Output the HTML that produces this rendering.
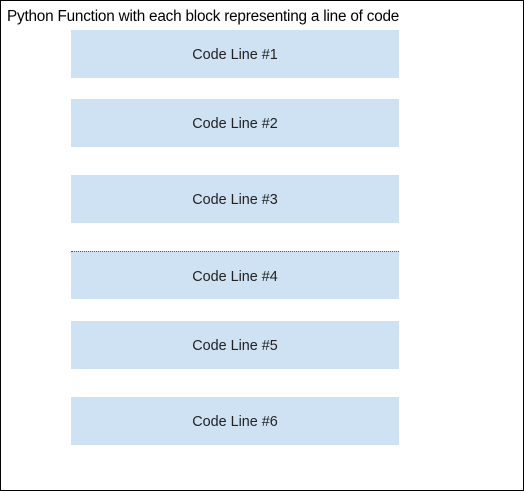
<!DOCTYPE html>
<html><head><style>
body{margin:0;width:524px;height:491px;position:relative;background:#fff;font-family:"Liberation Sans",sans-serif;overflow:hidden}
.frame{position:absolute;left:0;top:0;width:522px;height:489px;border:1px solid #000}
.t{position:absolute;left:7px;top:8px;font-size:15.3px;color:#000;white-space:nowrap;letter-spacing:-0.2px}
.b{position:absolute;left:71px;width:328px;height:48px;background:#cfe2f3;color:#222;font-size:14.4px;line-height:51px;text-align:center;overflow:hidden}
</style></head><body>
<div class="frame"></div>
<div class="t">Python Function with each block representing a line of code</div>
<div class="b" style="top:30px">Code Line #1</div>
<div class="b" style="top:99px">Code Line #2</div>
<div class="b" style="top:175px">Code Line #3</div>
<div class="b" style="top:251px;border-top:1px dotted #555;height:47px;line-height:50px">Code Line #4</div>
<div class="b" style="top:321px">Code Line #5</div>
<div class="b" style="top:397px">Code Line #6</div>
</body></html>
